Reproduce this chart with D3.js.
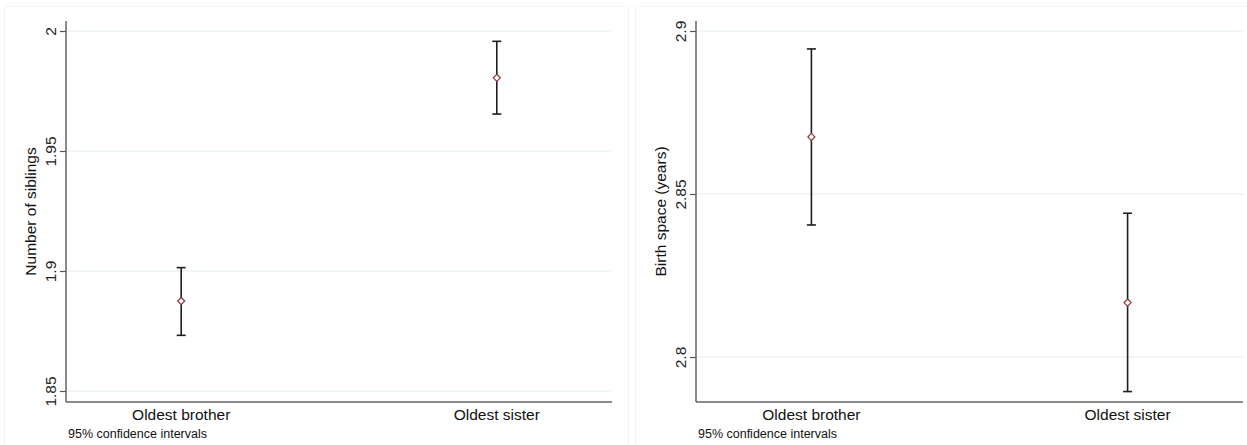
<!DOCTYPE html>
<html>
<head>
<meta charset="utf-8">
<script src="https://cdn.jsdelivr.net/npm/d3@7"></script>
<style>
  html, body { margin: 0; padding: 0; background: #fff; }
  svg { display: block; font-family: "Liberation Sans", Arial, sans-serif; }
</style>
</head>
<body>
<svg id="chart" width="1247" height="445"></svg>
<script>
// Group labels shared by both panels
const groups = ["Oldest brother", "Oldest sister"];

// Panel 1: number of siblings, mean and 95% CI
const siblingsMean  = [1.8875, 1.9805];
const siblingsLower = [1.8732, 1.9654];
const siblingsUpper = [1.9014, 1.9957];
const siblingsTicks = [1.85, 1.9, 1.95, 2];

// Panel 2: birth space in years, mean and 95% CI
const spaceMean  = [2.8675, 2.8167];
const spaceLower = [2.8405, 2.7894];
const spaceUpper = [2.8945, 2.8441];
const spaceTicks = [2.8, 2.85, 2.9];

const note = "95% confidence intervals";

const svg = d3.select("#chart");

const panels = [
  {
    frame: [4, 6, 624, 439],
    plot: { x0: 66, x1: 612, y0: 21, y1: 402 },
    domain: [1.84542, 2.00417],
    ticks: siblingsTicks,
    title: "Number of siblings",
    titleX: 36,
    tickX: 55.5,
    mean: siblingsMean, lo: siblingsLower, hi: siblingsUpper
  },
  {
    frame: [635, 6, 612, 439],
    plot: { x0: 696, x1: 1243, y0: 21, y1: 402 },
    domain: [2.78620, 2.90307],
    ticks: spaceTicks,
    title: "Birth space (years)",
    titleX: 666,
    tickX: 685.5,
    mean: spaceMean, lo: spaceLower, hi: spaceUpper
  }
];

panels.forEach(p => {
  const g = svg.append("g");
  const { x0, x1, y0, y1 } = p.plot;

  // faint outer frame of each graph region
  g.append("rect")
    .attr("x", p.frame[0] + 0.5).attr("y", p.frame[1] + 0.5)
    .attr("width", p.frame[2]).attr("height", p.frame[3])
    .attr("fill", "none").attr("stroke", "#f5f5f5");

  const y = d3.scaleLinear().domain(p.domain).range([y1, y0]);
  const x = d3.scalePoint().domain(groups).range([x0, x1]).padding(0.365);

  // horizontal grid lines
  g.append("g").selectAll("line").data(p.ticks).join("line")
    .attr("x1", x0).attr("x2", x1)
    .attr("y1", d => y(d)).attr("y2", d => y(d))
    .attr("stroke", "#e4edf0").attr("stroke-width", 1.2);

  // y axis with rotated tick labels
  const yAxis = g.append("g")
    .attr("transform", `translate(${x0},0)`)
    .call(d3.axisLeft(y).tickValues(p.ticks).tickSize(6).tickFormat(d3.format("")));
  yAxis.select(".domain").remove();
  yAxis.selectAll(".tick line").attr("stroke", "#555").attr("stroke-width", 1.2);
  yAxis.selectAll(".tick text")
    .attr("x", null).attr("dy", null)
    .attr("transform", `translate(${p.tickX - x0},0) rotate(-90)`)
    .attr("text-anchor", "middle")
    .attr("font-size", 15.5)
    .attr("fill", "#222")
    .attr("font-family", "Liberation Sans, Arial, sans-serif");

  // axis lines
  g.append("line")
    .attr("x1", x0).attr("x2", x0).attr("y1", y0).attr("y2", y1)
    .attr("stroke", "#666").attr("stroke-width", 1.5);
  g.append("line")
    .attr("x1", x0).attr("x2", x1).attr("y1", y1).attr("y2", y1)
    .attr("stroke", "#666").attr("stroke-width", 1.5);

  // x axis category labels
  g.append("g").selectAll("text").data(groups).join("text")
    .attr("x", d => x(d)).attr("y", 419.5)
    .attr("text-anchor", "middle")
    .attr("font-size", 15.5).attr("fill", "#111")
    .text(d => d);

  // y axis title
  g.append("text")
    .attr("transform", `translate(${p.titleX},${(y0 + y1) / 2}) rotate(-90)`)
    .attr("text-anchor", "middle")
    .attr("font-size", 15.5).attr("fill", "#111")
    .text(p.title);

  // note
  g.append("text")
    .attr("x", x0 + 2).attr("y", 438)
    .attr("font-size", 12.5).attr("fill", "#111")
    .text(note);

  // confidence interval bars with caps
  const rows = groups.map((k, i) => ({ k, m: p.mean[i], lo: p.lo[i], hi: p.hi[i] }));
  const bars = g.append("g").selectAll("g").data(rows).join("g");
  bars.append("line")
    .attr("x1", d => x(d.k)).attr("x2", d => x(d.k))
    .attr("y1", d => y(d.lo)).attr("y2", d => y(d.hi))
    .attr("stroke", "#1e1e1e").attr("stroke-width", 1.6);
  ["lo", "hi"].forEach(key => {
    bars.append("line")
      .attr("x1", d => x(d.k) - 4.5).attr("x2", d => x(d.k) + 4.5)
      .attr("y1", d => y(d[key])).attr("y2", d => y(d[key]))
      .attr("stroke", "#1e1e1e").attr("stroke-width", 1.6);
  });

  // hollow diamond markers at the means
  bars.append("path")
    .attr("d", d3.symbol().type(d3.symbolDiamond2).size(32))
    .attr("transform", d => `translate(${x(d.k)},${y(d.m)})`)
    .attr("fill", "#fff").attr("stroke", "#90353b").attr("stroke-width", 1.2);
});
</script>
</body>
</html>
